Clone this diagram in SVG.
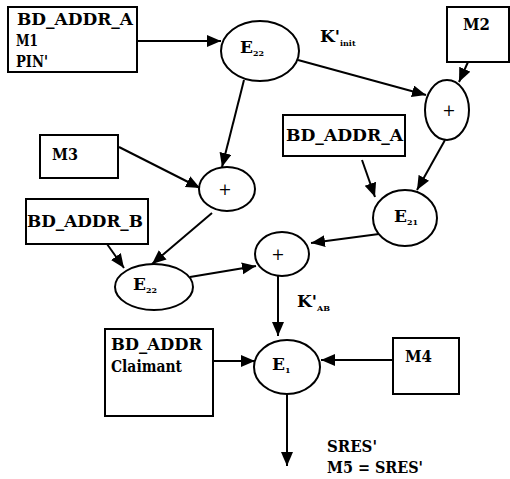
<svg xmlns="http://www.w3.org/2000/svg" width="510" height="479" viewBox="0 0 510 479" font-family="'DejaVu Serif', 'Liberation Serif', serif">
<style>
.box{fill:#fff;stroke:#000;stroke-width:2}
.ell{fill:#fff;stroke:#000;stroke-width:2}
.t{font-size:17px;font-weight:bold;fill:#000}
.p{font-size:16px;text-anchor:middle;fill:#000}
.c line{stroke:#000;stroke-width:2;marker-end:url(#ah)}
</style>
<defs>
<marker id="ah" markerUnits="userSpaceOnUse" markerWidth="15" markerHeight="13" refX="14" refY="6" orient="auto">
<path d="M0,0 L14,6 L0,12 z" fill="#000"/>
</marker>
</defs>
<rect width="510" height="479" fill="#fff"/>
<g class="c" id="connectors">
<line x1="137" y1="41" x2="221" y2="41"/>
<line x1="298" y1="60" x2="426" y2="95"/>
<line x1="468" y1="62" x2="459" y2="82"/>
<line x1="445" y1="140" x2="417" y2="190"/>
<line x1="362" y1="160" x2="375" y2="197"/>
<line x1="379" y1="234" x2="311" y2="243"/>
<line x1="244" y1="80" x2="222" y2="167"/>
<line x1="119" y1="147" x2="200" y2="188"/>
<line x1="212" y1="213" x2="152" y2="264"/>
<line x1="107" y1="244" x2="124" y2="268"/>
<line x1="190" y1="277" x2="256" y2="266"/>
<line x1="278" y1="276" x2="278" y2="336"/>
<line x1="213" y1="361" x2="255" y2="361"/>
<line x1="393" y1="360" x2="321" y2="360"/>
<line x1="287" y1="394" x2="287" y2="466"/>
</g>
<g id="box1"><rect class="box" x="8" y="7" width="129" height="65"/>
<text class="t" x="17" y="25" textLength="116" lengthAdjust="spacingAndGlyphs">BD_ADDR_A</text>
<text class="t" x="16" y="46" textLength="22" lengthAdjust="spacingAndGlyphs">M1</text>
<text class="t" x="16" y="67" textLength="32" lengthAdjust="spacingAndGlyphs">PIN'</text></g>
<g id="e22top"><ellipse class="ell" cx="260" cy="51" rx="39" ry="30"/>
<text class="t" x="240" y="53">E<tspan font-size="8" dy="3">22</tspan></text></g>
<g id="kinit"><text class="t" x="320" y="42">K'<tspan font-size="8" dy="4">init</tspan></text></g>
<g id="m2"><rect class="box" x="447" y="7" width="62" height="55"/><text class="t" x="463" y="30" textLength="27" lengthAdjust="spacingAndGlyphs">M2</text></g>
<g id="plusR"><ellipse class="ell" cx="447" cy="110" rx="22" ry="30"/><text class="p" x="449" y="116">+</text></g>
<g id="bda2"><rect class="box" x="283" y="115" width="122" height="41"/><text class="t" x="286" y="141" textLength="117" lengthAdjust="spacingAndGlyphs">BD_ADDR_A</text></g>
<g id="e21"><ellipse class="ell" cx="405" cy="218" rx="32" ry="28"/>
<text class="t" x="394" y="222">E<tspan font-size="8" dy="3">21</tspan></text></g>
<g id="m3"><rect class="box" x="40" y="135" width="78" height="43"/><text class="t" x="52" y="160" textLength="26" lengthAdjust="spacingAndGlyphs">M3</text></g>
<g id="plusL"><ellipse class="ell" cx="227" cy="189" rx="28" ry="22"/><text class="p" x="225" y="195">+</text></g>
<g id="bdb"><rect class="box" x="26" y="199" width="122" height="45"/><text class="t" x="27" y="227" textLength="116" lengthAdjust="spacingAndGlyphs">BD_ADDR_B</text></g>
<g id="e22bot"><ellipse class="ell" cx="154" cy="287" rx="39" ry="23"/>
<text class="t" x="133" y="290">E<tspan font-size="8" dy="3">22</tspan></text></g>
<g id="plusM"><ellipse class="ell" cx="282" cy="254" rx="27" ry="22"/><text class="p" x="278" y="260">+</text></g>
<g id="kab"><text class="t" x="297" y="307">K'<tspan font-size="8" dy="4">AB</tspan></text></g>
<g id="e1"><ellipse class="ell" cx="287" cy="367" rx="33" ry="27"/>
<text class="t" x="272" y="370">E<tspan font-size="8" dy="3">1</tspan></text></g>
<g id="claimant"><rect class="box" x="105" y="329" width="108" height="87"/>
<text class="t" x="111" y="350" textLength="91" lengthAdjust="spacingAndGlyphs">BD_ADDR</text>
<text class="t" x="111" y="372" textLength="71" lengthAdjust="spacingAndGlyphs">Claimant</text></g>
<g id="m4"><rect class="box" x="393" y="338" width="66" height="56"/><text class="t" x="405" y="362" textLength="27" lengthAdjust="spacingAndGlyphs">M4</text></g>
<g id="out"><text class="t" x="327" y="452" textLength="50" lengthAdjust="spacingAndGlyphs">SRES'</text>
<text class="t" x="327" y="473" textLength="96" lengthAdjust="spacingAndGlyphs">M5 = SRES'</text></g>
</svg>
